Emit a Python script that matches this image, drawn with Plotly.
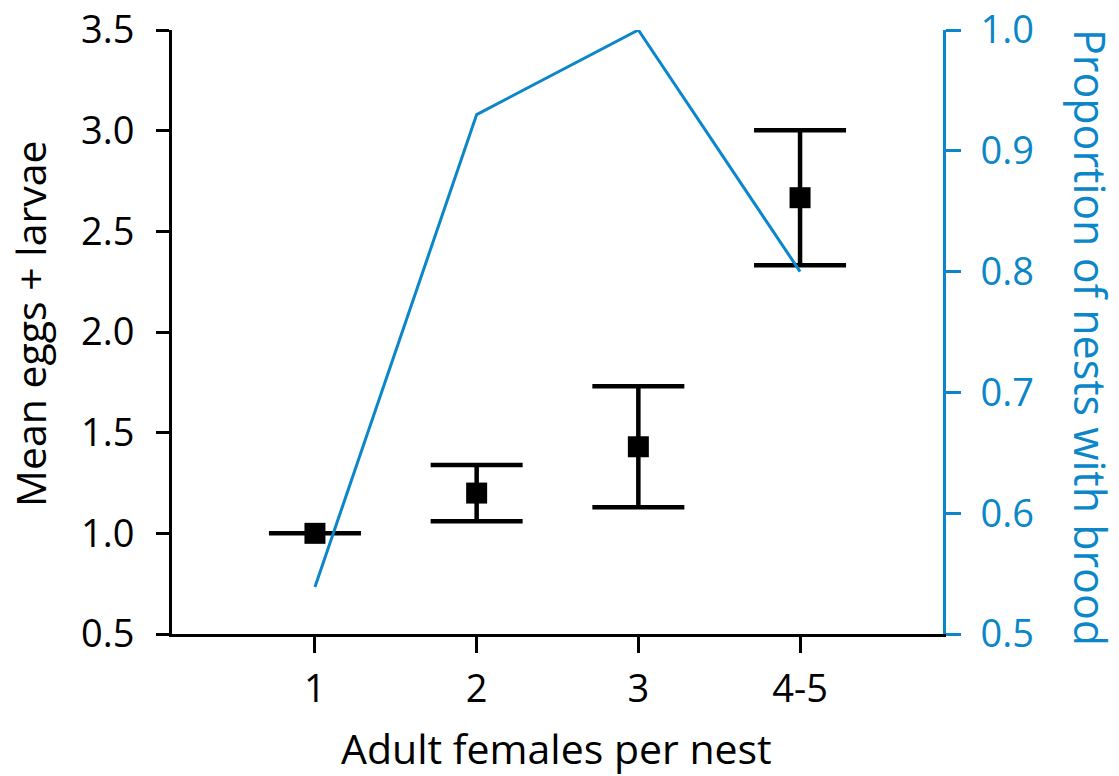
import plotly.graph_objects as go

categories = ["1", "2", "3", "4-5"]
mean_brood = [1.0, 1.2, 1.43, 2.667]
mean_err = [0.0, 0.14, 0.30, 0.335]
prop_brood = [0.539, 0.930, 1.0, 0.80]

left_ticks = [0.5, 1.0, 1.5, 2.0, 2.5, 3.0, 3.5]
right_ticks = [0.5, 0.6, 0.7, 0.8, 0.9, 1.0]

BLUE = "#0a86c9"
FONT = "Open Sans"
FS = 41
TFS = 38

fig = go.Figure()
fig.add_trace(go.Scatter(
    x=categories, y=prop_brood, mode="lines", yaxis="y2",
    line=dict(color=BLUE, width=3), showlegend=False, cliponaxis=False))
fig.add_trace(go.Scatter(
    x=categories, y=mean_brood, mode="markers",
    marker=dict(symbol="square", size=21, color="black"),
    error_y=dict(type="data", array=mean_err, visible=True, color="black",
                 thickness=4.5, width=46),
    showlegend=False, cliponaxis=False))

fig.update_layout(
    width=1119, height=776,
    margin=dict(l=172, r=176, t=30, b=142, autoexpand=False),
    plot_bgcolor="white", paper_bgcolor="white",
    font=dict(family=FONT, size=FS, color="black"),
    xaxis=dict(type="category", range=[-0.884, 3.884], showline=True,
               linecolor="black", linewidth=3, ticks="outside", ticklen=16,
               tickwidth=3, tickcolor="black", showgrid=False, zeroline=False,
               automargin=False, ticklabelstandoff=3,
               tickfont=dict(size=TFS)),
    yaxis=dict(range=[0.5, 3.5], tickvals=left_ticks,
               ticktext=[f"{v:.1f}" for v in left_ticks],
               showline=True, linecolor="black", linewidth=3,
               ticks="outside", ticklen=13, tickwidth=3, tickcolor="black",
               showgrid=False, zeroline=False, automargin=False,
               ticklabelstandoff=14, ticklabeloverflow="allow",
               tickfont=dict(size=TFS)),
    yaxis2=dict(range=[0.5, 1.0], tickvals=right_ticks,
                ticktext=[f"{v:.1f}" for v in right_ticks],
                overlaying="y", side="right", anchor="x",
                showline=True, linecolor=BLUE, linewidth=3,
                ticks="outside", ticklen=15, tickwidth=3, tickcolor=BLUE,
                showgrid=False, zeroline=False, automargin=False,
                ticklabelstandoff=12, ticklabeloverflow="allow",
                tickfont=dict(size=TFS, color=BLUE)),
    annotations=[
        dict(text="Adult females per nest", xref="paper", yref="paper",
             x=0.5, y=0, yshift=-114, xshift=-1, showarrow=False,
             font=dict(size=FS), xanchor="center", yanchor="middle"),
        dict(text="Mean eggs + larvae", xref="paper", yref="paper",
             x=0, y=0.5, xshift=-142, yshift=8, textangle=-90, showarrow=False,
             font=dict(size=FS), xanchor="center", yanchor="middle"),
        dict(text="Proportion of nests with brood", xref="paper", yref="paper",
             x=1, y=0.5, xshift=148, yshift=-5, textangle=90, showarrow=False,
             font=dict(size=43, color=BLUE), xanchor="center", yanchor="middle"),
    ],
)

fig.write_html("out.html", config={"displayModeBar": False},
               post_script="document.body.style.margin='0';document.body.style.overflow='hidden';")
